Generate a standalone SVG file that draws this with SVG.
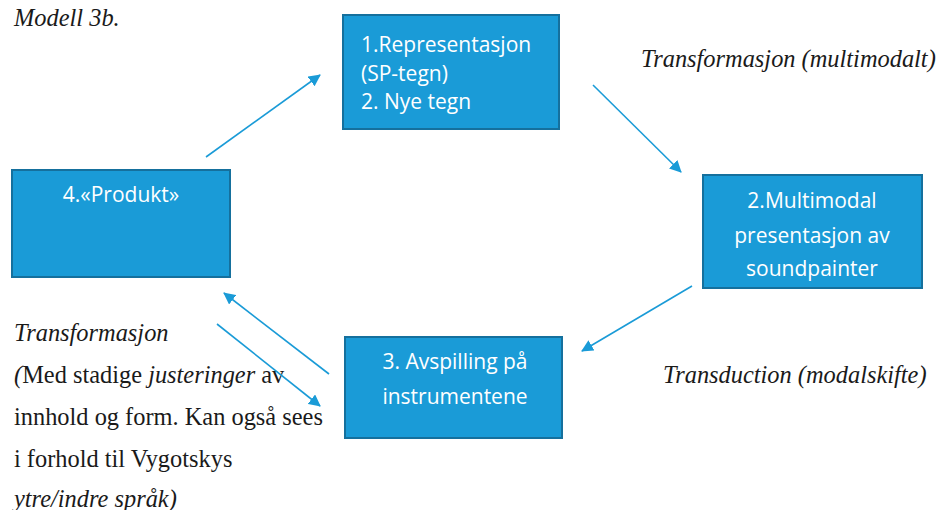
<svg xmlns="http://www.w3.org/2000/svg" width="938" height="510" viewBox="0 0 938 510">
  <defs>
    <style>
      .box { fill: #1a9bd7; stroke: #15709d; stroke-width: 2; }
      .lbl { font-family: "Open Sans", "Liberation Sans", sans-serif; font-size: 21px; fill: #ffffff; }
      .mid { text-anchor: middle; }
      .conn { stroke: #1a9bd7; stroke-width: 1.6; fill: none; marker-end: url(#head); }
      .note { font-family: "Liberation Serif", "Times New Roman", serif; font-size: 24.4px; fill: #1a1a1a; }
      .it { font-style: italic; }
    </style>
    <marker id="head" viewBox="0 0 12 12" refX="11" refY="6" markerWidth="12" markerHeight="12" markerUnits="userSpaceOnUse" orient="auto">
      <path d="M0,0 L12,6 L0,12 Z" fill="#1a9bd7"/>
    </marker>
  </defs>

  <rect width="938" height="510" fill="#ffffff"/>

  <!-- captions -->
  <text class="note it" x="14" y="26">Modell 3b.</text>
  <text class="note it" x="641" y="67">Transformasjon (multimodalt)</text>
  <text class="note it" x="663" y="383">Transduction (modalskifte)</text>

  <g id="notes-left" class="note">
    <text x="14" y="341" class="it">Transformasjon</text>
    <text x="14" y="383"><tspan class="it">(</tspan>Med stadige <tspan class="it">justeringer</tspan> av</text>
    <text x="14" y="425">innhold og form. Kan også sees</text>
    <text x="14" y="467">i forhold til Vygotskys</text>
    <text x="14" y="507" class="it">ytre/indre språk)</text>
  </g>

  <!-- nodes -->
  <g id="node-1">
    <rect class="box" x="343" y="15" width="216" height="114"/>
    <text class="lbl" x="361" y="52">1.Representasjon</text>
    <text class="lbl" x="361" y="81">(SP-tegn)</text>
    <text class="lbl" x="361" y="109">2. Nye tegn</text>
  </g>
  <g id="node-2">
    <rect class="box" x="703" y="175" width="219" height="113"/>
    <text class="lbl mid" x="812" y="208">2.Multimodal</text>
    <text class="lbl mid" x="812" y="243">presentasjon av</text>
    <text class="lbl mid" x="812" y="276">soundpainter</text>
  </g>
  <g id="node-3">
    <rect class="box" x="345" y="337" width="217" height="101"/>
    <text class="lbl mid" x="455" y="369">3. Avspilling på</text>
    <text class="lbl mid" x="455" y="404">instrumentene</text>
  </g>
  <g id="node-4">
    <rect class="box" x="12" y="170" width="218" height="107"/>
    <text class="lbl mid" x="121" y="202">4.«Produkt»</text>
  </g>

  <!-- connectors -->
  <g id="connectors">
    <line class="conn" x1="206" y1="157" x2="320" y2="75"/>
    <line class="conn" x1="593" y1="85" x2="681" y2="172"/>
    <line class="conn" x1="692" y1="286" x2="582" y2="351"/>
    <line class="conn" x1="329" y1="374" x2="224" y2="293"/>
    <line class="conn" x1="217" y1="324" x2="320" y2="406"/>
  </g>
</svg>
